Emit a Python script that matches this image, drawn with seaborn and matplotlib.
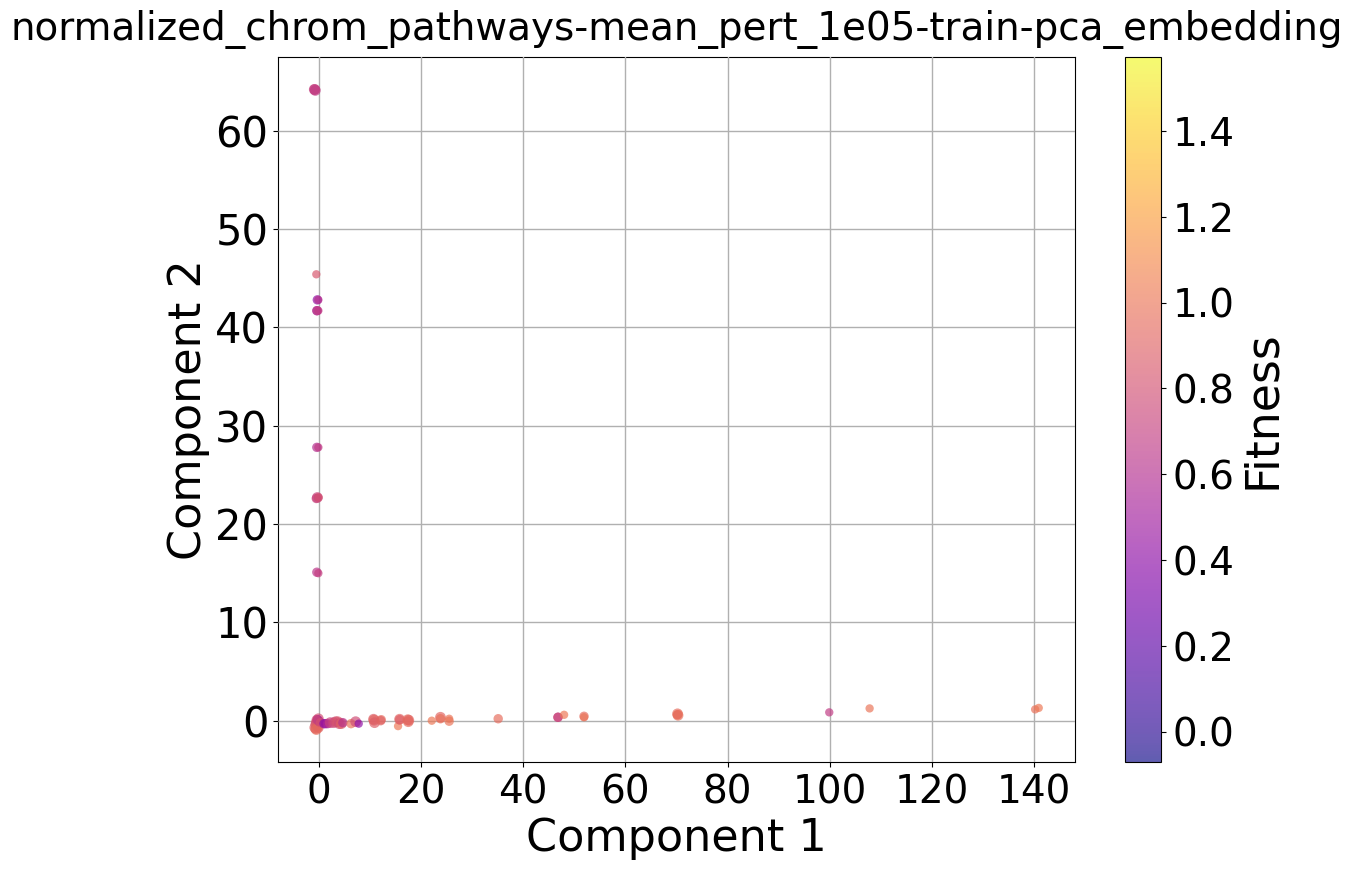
import matplotlib
matplotlib.use("Agg")
import matplotlib.pyplot as plt
import seaborn as sns
import pandas as pd

title = "normalized_chrom_pathways-mean_pert_1e05-train-pca_embedding"

comp1 = [-0.8, -0.9, -0.7, -0.5, -0.3, -0.1,
         -0.4, -0.35, -0.1, -0.4, -0.1, -0.3, -0.2, -0.5, -0.05, -0.4, -0.1,
         -0.1, -0.2, -0.5, -0.6, -0.2, -0.6, -0.1, -0.8, -0.5, -0.3, 0.1, 0.3, -0.5,
         1.0, 1.3, 1.7, 2.2, 2.9, 3.3, 3.7, 4.0, 4.4, 4.7, 6.3, 7.2, 7.8,
         10.7, 10.8, 10.9, 12.2, 12.1, 15.5, 15.8, 15.8, 17.4, 17.5, 17.6,
         22.1, 23.8, 23.8, 25.5, 25.5, 35.1, 46.8, 46.8, 48.0, 51.9, 51.9,
         70.2, 70.3, 70.2, 99.9, 107.8, 140.2, 140.9]
comp2 = [64.2, 64.2, 64.1, 45.4, 42.8, 42.8,
         41.7, 41.7, 41.7, 27.8, 27.8, 22.7, 22.7, 22.6, 22.7, 15.1, 15.0,
         0.2, 0.0, -0.2, -0.4, -0.6, -0.8, -0.7, -0.7, -0.9, 0.1, -0.1, -0.2, 0.1,
         -0.3, -0.3, -0.3, -0.2, -0.2, -0.1, -0.1, -0.3, -0.3, -0.2, -0.3, -0.1, -0.3,
         0.15, 0.05, -0.2, 0.1, 0.0, -0.55, 0.15, 0.1, 0.1, -0.1, 0.05,
         0.0, 0.35, 0.2, 0.2, -0.05, 0.2, 0.35, 0.35, 0.6, 0.45, 0.35,
         0.7, 0.55, 0.6, 0.85, 1.25, 1.15, 1.3]
fitness = [0.72, 0.70, 0.68, 0.84, 0.42, 0.62,
           0.58, 0.62, 0.68, 0.60, 0.68, 0.74, 0.78, 0.72, 0.80, 0.64, 0.70,
           0.80, 0.72, 0.85, 0.78, 0.92, 0.95, 0.90, 0.88, 0.95, 0.50, 0.55, 0.85, 0.78,
           0.42, 0.45, 0.55, 0.72, 0.76, 0.80, 0.84, 0.78, 0.90, 0.62, 1.00, 0.78, 0.42,
           0.88, 0.92, 0.88, 0.95, 0.90, 1.02, 0.92, 0.88, 0.95, 0.95, 0.92,
           1.02, 0.92, 0.98, 1.00, 1.00, 0.96, 0.70, 0.74, 1.02, 0.95, 1.00,
           0.96, 0.98, 0.96, 0.68, 1.00, 0.98, 1.02]
counts = [3, 3, 3, 1, 2, 1,
          2, 2, 1, 2, 1, 3, 1, 2, 1, 2, 1,
          3, 3, 3, 3, 3, 3, 3, 3, 3, 2, 2, 2, 2,
          2, 2, 2, 3, 3, 3, 3, 3, 3, 2, 2, 3, 1,
          3, 3, 3, 2, 2, 1, 3, 2, 3, 3, 3,
          1, 3, 2, 1, 2, 2, 2, 2, 1, 2, 1,
          3, 3, 2, 1, 1, 1, 1]

df = pd.DataFrame({"Component 1": comp1, "Component 2": comp2,
                   "Fitness": fitness, "Count": counts})

vmin, vmax = -0.07, 1.572
norm = matplotlib.colors.Normalize(vmin, vmax)

fig, ax = plt.subplots(figsize=(13.52, 8.72), dpi=100)
sns.scatterplot(data=df, x="Component 1", y="Component 2", hue="Fitness", size="Count",
                sizes={1: 36, 2: 46, 3: 60},
                hue_norm=norm, palette="plasma", alpha=0.68, linewidth=0,
                legend=False, ax=ax, zorder=3)
ax.set_xlim(-8.0, 148.0)
ax.set_ylim(-4.2, 67.5)
ax.set_xticks(range(0, 141, 20))
ax.set_yticks(range(0, 61, 10))
ax.grid(True, color="#b0b0b0", linewidth=1)
ax.set_axisbelow(False)
ax.tick_params(axis="x", labelsize=28, pad=5)
ax.tick_params(axis="y", labelsize=30)
ax.set_xlabel("Component 1", fontsize=32)
ax.set_ylabel("Component 2", fontsize=32)
ax.set_title(title, fontsize=28, pad=12)
ax.set_position([278 / 1352, 1 - 762 / 872, (1075 - 278) / 1352, (762 - 57) / 872])

sm = plt.cm.ScalarMappable(norm=norm, cmap="plasma")
cax = fig.add_axes([1125 / 1352, 1 - 762 / 872, 36 / 1352, (762 - 57) / 872])
cb = fig.colorbar(sm, cax=cax, alpha=0.65)
cb.set_ticks([0.0, 0.2, 0.4, 0.6, 0.8, 1.0, 1.2, 1.4])
cb.ax.tick_params(labelsize=28, pad=5)
cb.set_label("Fitness", fontsize=33, labelpad=4)

fig.savefig("out.png", dpi=100)
